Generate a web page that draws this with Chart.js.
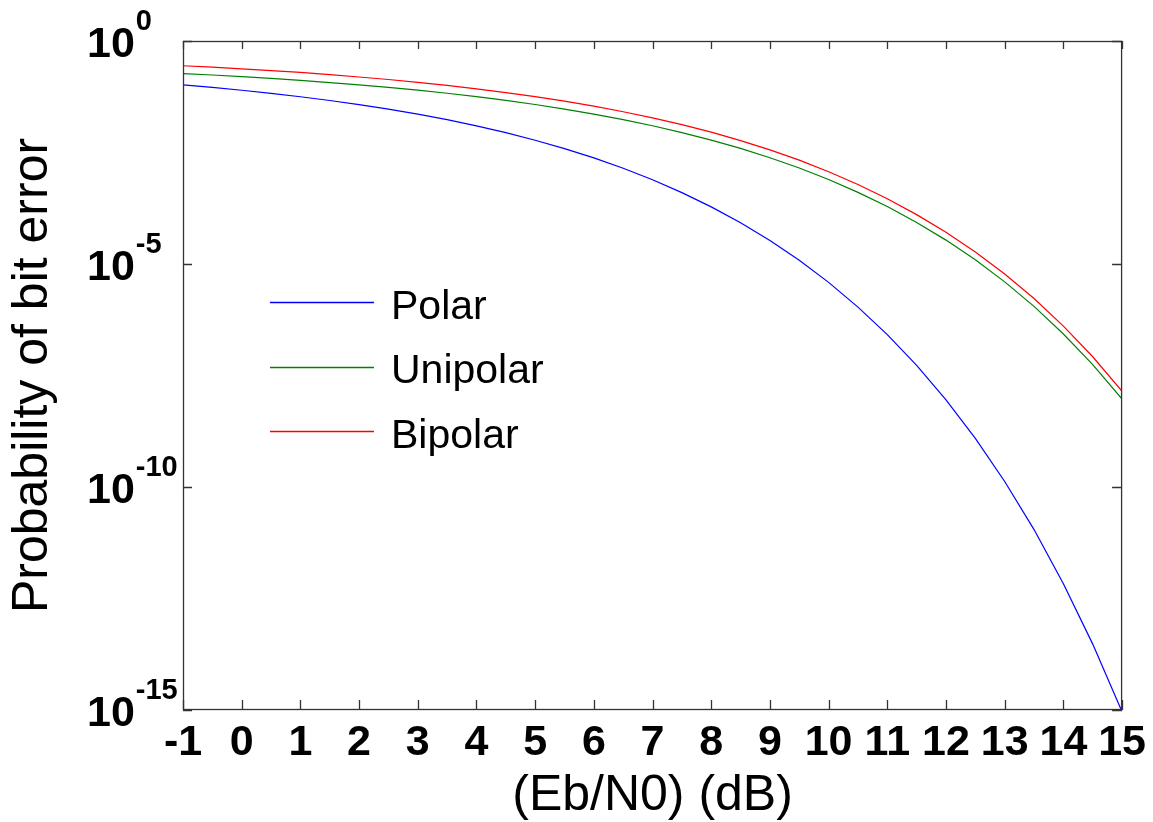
<!DOCTYPE html>
<html>
<head>
<meta charset="utf-8">
<script src="https://cdn.jsdelivr.net/npm/chart.js@4"></script>
<style>
body{margin:0;background:#fff;}
canvas{display:block;}
</style>
</head>
<body>
<canvas id="chart" width="1153" height="822"></canvas>
<script>
/* =========================
   DATOS
========================= */

// Eb/N0 en dB
const ebn0 = [-1,-0.5,0,0.5,1,1.5,2,2.5,3,3.5,4,4.5,5,5.5,6,6.5,7,7.5,8,8.5,9,9.5,10,10.5,11,11.5,12,12.5,13,13.5,14,14.5,15];

const polar = [0.104,0.0909,0.0786,0.0671,0.0563,0.0464,0.0375,0.0297,0.0229,0.0172,0.0125,0.00879,0.00595,0.00386,0.00239,0.00140,7.73e-4,3.99e-4,1.91e-4,8.40e-5,3.36e-5,1.21e-5,3.87e-6,1.08e-6,2.61e-7,5.33e-8,9.0e-9,1.23e-9,1.33e-10,1.11e-11,6.8e-13,3.0e-14,9.1e-16];

const unipolar = [0.186,0.173,0.159,0.145,0.131,0.117,0.104,0.0912,0.0789,0.0673,0.0565,0.0466,0.0377,0.0298,0.0230,0.0173,0.0126,0.00886,0.00601,0.00390,0.00241,0.00142,7.83e-4,4.04e-4,1.94e-4,8.55e-5,3.43e-5,1.24e-5,3.97e-6,1.12e-6,2.69e-7,5.55e-8,9.36e-9];

const bipolar = [0.279,0.259,0.238,0.217,0.197,0.176,0.156,0.137,0.118,0.101,0.0848,0.0699,0.0566,0.0447,0.0345,0.0259,0.0189,0.0133,0.00902,0.00585,0.00362,0.00213,1.17e-3,6.06e-4,2.91e-4,1.28e-4,5.15e-5,1.86e-5,5.96e-6,1.68e-6,4.04e-7,8.33e-8,1.40e-8];

const seriesNames = ["Polar","Unipolar","Bipolar"];
const seriesColors = ["#0000ff","#008000","#ff0000"];

const xTicks = [-1,0,1,2,3,4,5,6,7,8,9,10,11,12,13,14,15];
const yExponents = [0,-5,-10,-15];

const FONT = "'Liberation Sans', Arial, sans-serif";

/* =========================
   PLUGIN: marco, ticks, etiquetas, leyenda
========================= */

const matlabAxes = {
id: "matlabAxes",
afterDatasetsDraw(chart){
const {ctx, chartArea: a, scales: {x, y}} = chart;
ctx.save();

/* marco */
ctx.strokeStyle = "#333";
ctx.lineWidth = 1.3;
ctx.strokeRect(a.left + 0.5, a.top + 0.5, a.right - a.left - 1, a.bottom - a.top - 1);

/* ticks hacia dentro */
ctx.beginPath();
xTicks.forEach(v=>{
const px = Math.round(x.getPixelForValue(v)) + 0.5;
ctx.moveTo(px, a.bottom); ctx.lineTo(px, a.bottom - 10);
ctx.moveTo(px, a.top); ctx.lineTo(px, a.top + 8);
});
yExponents.forEach(e=>{
const py = Math.round(y.getPixelForValue(Math.pow(10, e))) + 0.5;
ctx.moveTo(a.left, py); ctx.lineTo(a.left + 9, py);
ctx.moveTo(a.right, py); ctx.lineTo(a.right - 10, py);
});
ctx.stroke();

/* etiquetas eje y: 10^n */
ctx.fillStyle = "#000";
ctx.textAlign = "left";
ctx.textBaseline = "alphabetic";
yExponents.forEach(e=>{
const py = y.getPixelForValue(Math.pow(10, e));
ctx.font = "bold 43px " + FONT;
ctx.fillText("10", 87, py + 15.5);
const w = ctx.measureText("10").width;
ctx.font = "bold 29px " + FONT;
ctx.fillText(String(e), 87 + w + 1, py - 11.5);
});

/* leyenda */
ctx.font = "41px " + FONT;
seriesNames.forEach((name, i)=>{
const ly = a.top + 261 + i * 64.5;
ctx.strokeStyle = seriesColors[i];
ctx.lineWidth = 1.3;
ctx.beginPath();
ctx.moveTo(a.left + 87, Math.round(ly) + 0.5);
ctx.lineTo(a.left + 191, Math.round(ly) + 0.5);
ctx.stroke();
ctx.fillStyle = "#000";
ctx.fillText(name, a.left + 208, ly + 16.5);
});

ctx.restore();
}
};

/* =========================
   CHART
========================= */

const series = [polar, unipolar, bipolar];

new Chart(document.getElementById("chart"), {
type: "line",
data: {
datasets: series.map((s, i)=>({
label: seriesNames[i],
data: ebn0.map((v, j)=>({x: v, y: s[j]})),
borderColor: seriesColors[i],
borderWidth: 1.2,
pointRadius: 0,
tension: 0,
fill: false
}))
},
options: {
responsive: false,
animation: false,
devicePixelRatio: 1,
layout: { padding: { left: 0, top: 41, right: 28, bottom: 0 } },
plugins: { legend: { display: false }, tooltip: { enabled: false } },
scales: {
x: {
type: "linear",
min: -1,
max: 15,
afterBuildTicks: s => { s.ticks = xTicks.map(v=>({value: v})); },
afterFit: s => { s.height = 112; },
grid: { display: false, drawTicks: false },
border: { display: false },
ticks: {
color: "#000",
padding: 7,
maxRotation: 0,
autoSkip: false,
font: { family: FONT, size: 43, weight: "bold", lineHeight: 1.2 }
},
title: {
display: true,
text: "(Eb/N0) (dB)",
color: "#000",
padding: { top: 0, bottom: 1 },
font: { family: FONT, size: 50, lineHeight: 1 }
}
},
y: {
type: "logarithmic",
min: 1e-15,
max: 1,
afterBuildTicks: s => { s.ticks = yExponents.map(e=>({value: Math.pow(10, e)})); },
afterFit: s => { s.width = 183; },
grid: { display: false, drawTicks: false },
border: { display: false },
ticks: { display: false },
title: {
display: true,
text: "Probability of bit error",
color: "#000",
padding: { top: 8, bottom: 0 },
font: { family: FONT, size: 50, lineHeight: 1 }
}
}
}
},
plugins: [matlabAxes]
});
</script>
</body>
</html>
